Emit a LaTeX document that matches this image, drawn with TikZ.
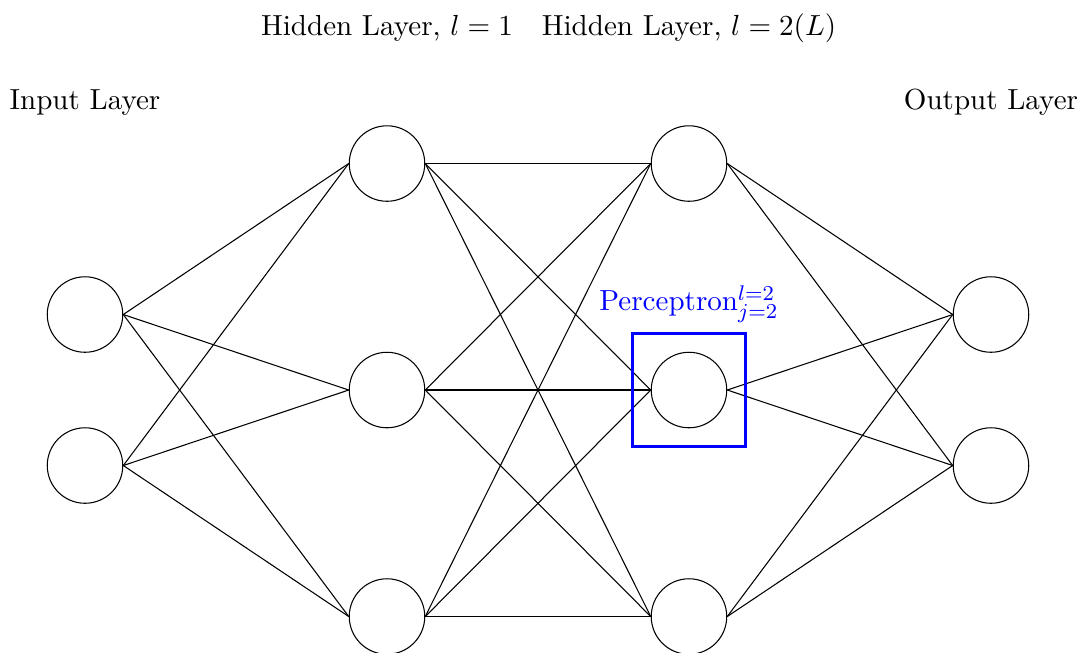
\documentclass[tikz,border=0pt]{standalone}
\begin{document}
\begin{tikzpicture}[
  neuron/.style={circle,draw,minimum size=1cm,inner sep=0pt},
  edge/.style={draw,black},
  pbox/.style={draw=blue,very thick,minimum size=1.5cm,inner sep=0pt},
  lbl/.style={font=\fontsize{10.95}{13.6}\selectfont,anchor=base}
]
\useasboundingbox (-1.126,-3.483) rectangle (13.232,5.166);
% input
\node[neuron] (i1) at (0,1) {};
\node[neuron] (i2) at (0,-1) {};
% hidden 1
\node[neuron] (a1) at (4,3) {};
\node[neuron] (a2) at (4,0) {};
\node[neuron] (a3) at (4,-3) {};
% hidden 2
\node[neuron] (b1) at (8,3) {};
\node[neuron] (b2) at (8,0) {};
\node[neuron] (b3) at (8,-3) {};
% output
\node[neuron] (o1) at (12,1) {};
\node[neuron] (o2) at (12,-1) {};
% edges
\foreach \s in {i1,i2}
  \foreach \t in {a1,a2,a3}
    \draw[edge] (\s.east) -- (\t.west);
\foreach \s in {a1,a2,a3}
  \foreach \t in {b1,b2,b3}
    \draw[edge] (\s.east) -- (\t.west);
\foreach \s in {b1,b2,b3}
  \foreach \t in {o1,o2}
    \draw[edge] (\s.east) -- (\t.west);
% perceptron box
\node[pbox] (pb) at (8,0) {};
\node[lbl,text=blue] (pl) at (8,1.05) {Perceptron$^{l=2}_{j=2}$};
% labels
\node[lbl] (lin) at (0,3.71) {Input Layer};
\node[lbl] (lout) at (12,3.71) {Output Layer};
\node[lbl] (lh1) at (4,4.70) {Hidden Layer, $l=1$};
\node[lbl] (lh2) at (8,4.70) {Hidden Layer, $l=2(L)$};
\end{tikzpicture}
\end{document}
